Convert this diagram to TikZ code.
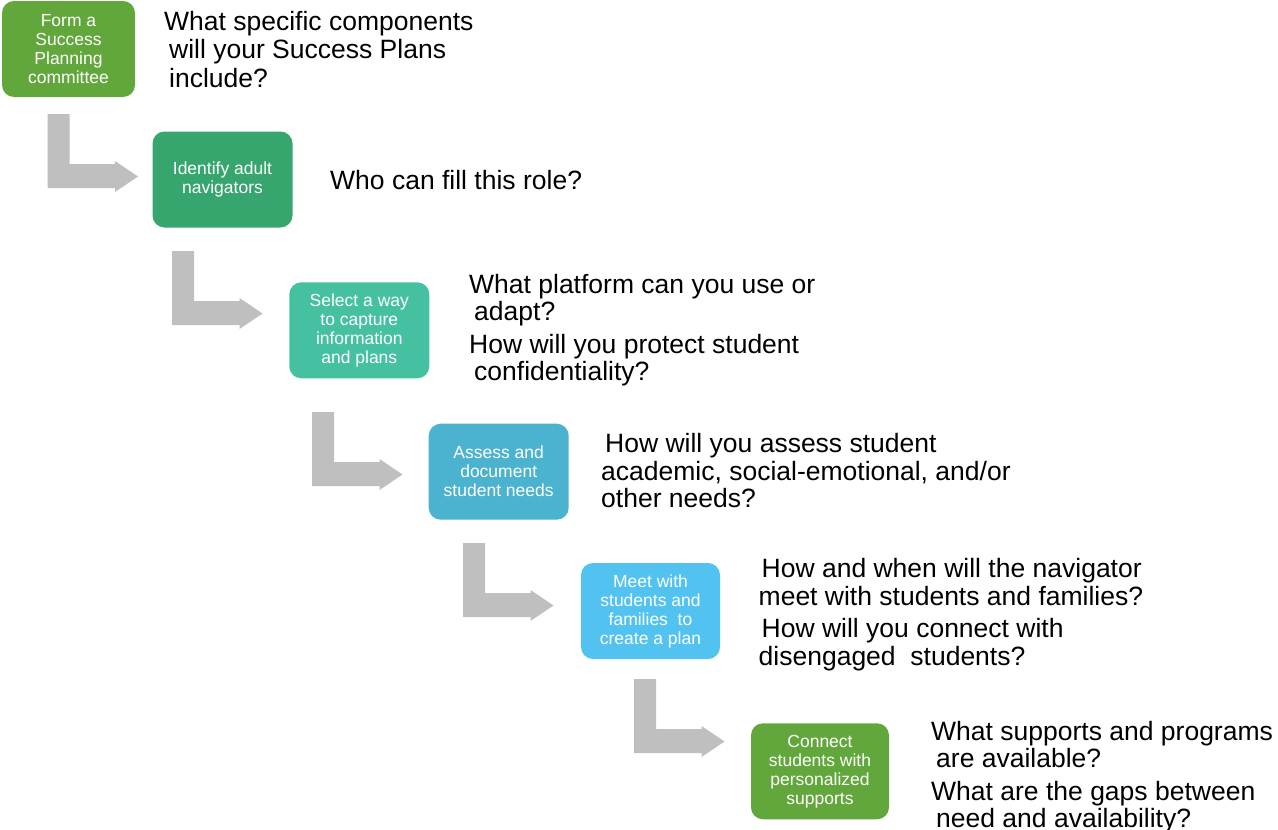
\documentclass[tikz,border=0pt]{standalone}
\usepackage{fontspec}
\setmainfont{Liberation Sans}
\definecolor{cA}{HTML}{62A73B}
\definecolor{cB}{HTML}{36A66E}
\definecolor{cC}{HTML}{45C1A1}
\definecolor{cD}{HTML}{4BB2D0}
\definecolor{cE}{HTML}{52C3F1}
\definecolor{arrowgray}{HTML}{BFBFBF}
\tikzset{
  stepbox/.style={rectangle, rounded corners=12pt, draw=none, text=white,
    align=center, inner sep=0pt, minimum height=96pt,
    font=\fontsize{17.5}{19}\selectfont},
  question/.style={anchor=base west, align=left, inner sep=0pt,
    font=\fontsize{26.5}{27.5}\selectfont},
  bentarrow/.pic={\fill[arrowgray] (0,0) -- (22,0) -- (22,50) -- (67.5,50) -- (67.5,47)
    -- (90.5,62.5) -- (67.5,78) -- (67.5,74) -- (0,74) -- cycle;}
}
\begin{document}
\begin{tikzpicture}[x=1pt,y=-1pt]
\useasboundingbox (0,0) rectangle (1278,830);
% step boxes
\node[stepbox, fill=cA, minimum width=133pt] (b1) at (68.5,49) {Form a\\Success\\Planning\\committee};
\node[stepbox, fill=cB, minimum width=140pt] (b2) at (222.5,179.5) {Identify adult\\navigators};
\node[stepbox, fill=cC, minimum width=140pt] (b3) at (359.3,330.3) {Select a way\\to capture\\information\\and plans};
\node[stepbox, fill=cD, minimum width=140pt] (b4) at (498.7,471.7) {Assess and\\document\\student needs};
\node[stepbox, fill=cE, minimum width=139pt] (b5) at (650.5,611) {Meet with\\students and\\families~ to\\create a plan};
\node[stepbox, fill=cA, minimum width=138pt] (b6) at (820,771.3) {Connect\\students with\\personalized\\supports};
% bent arrows
\pic at (47.5,114) {bentarrow};
\pic at (172,251) {bentarrow};
\pic at (312,412) {bentarrow};
\pic at (463,543) {bentarrow};
\pic at (634,679) {bentarrow};
% questions (anchor = baseline of the last line)
\node[question, font=\fontsize{26.5}{28.5}\selectfont] (q1) at (164,87) {What specific components\\\hspace*{5pt}will your Success Plans\\\hspace*{5pt}include?};
\node[question] (q2) at (330,189) {Who can fill this role?};
\node[question] (q3) at (469,380.5) {What platform can you use or\\\hspace*{5pt}adapt?\\[5pt]How will you protect student\\\hspace*{5pt}confidentiality?};
\node[question] (q4) at (601,507.5) {\hspace*{4pt}How will you assess student\\academic, social-emotional, and/or\\other needs?};
\node[question] (q5) at (758.5,665) {\hspace*{3pt}How and when will the navigator\\meet with students and families?\\[5pt]\hspace*{3pt}How will you connect with\\disengaged~ students?};
\node[question] (q6) at (931,827.5) {What supports and programs\\\hspace*{5pt}are available?\\[5pt]What are the gaps between\\\hspace*{5pt}need and availability?};
\end{tikzpicture}
\end{document}
